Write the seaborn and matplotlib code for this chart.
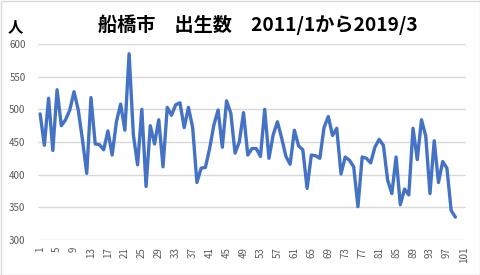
import matplotlib
matplotlib.use("Agg")
import matplotlib.pyplot as plt
import seaborn as sns
import pandas as pd
from matplotlib.patches import Rectangle

# Monthly births, Funabashi, 2011/1 .. 2019/3 (99 months)
births = [
    493, 445, 517, 437, 530, 475, 484, 499, 527, 499, 453, 402,
    518, 447, 446, 438, 467, 430, 481, 508, 468, 585, 461, 415,
    500, 382, 475, 447, 484, 412, 503, 491, 507, 510, 472, 503,
    472, 388, 410, 411, 440, 476, 499, 442, 513, 494, 433, 450,
    495, 430, 440, 440, 428, 500, 425, 461, 481, 456, 428, 416,
    468, 444, 438, 379, 430, 429, 425, 472, 489, 460, 471, 401,
    427, 422, 412, 351, 427, 425, 418, 442, 454, 445, 392, 371,
    427, 354, 378, 369, 471, 423, 484, 459, 371, 452, 388, 420,
    410, 345, 335,
]
month_index = list(range(1, len(births) + 1))
tick_values = list(range(1, 102, 4))
y_ticks = [300, 350, 400, 450, 500, 550, 600]
title_text = "船橋市　出生数　2011/1から2019/3"
unit_text = "人"

sns.set_theme(style="white")
plt.rcParams["font.family"] = ["Noto Sans CJK JP", "DejaVu Sans"]

df = pd.DataFrame({"month": month_index, "births": births})

fig = plt.figure(figsize=(4.81, 2.75), dpi=100)
ax = fig.add_axes([38 / 481, 35 / 275, 428 / 481, 196 / 275])

sns.lineplot(data=df, x="month", y="births", ax=ax, color="#4472C4", linewidth=2.4)

ax.set_xlim(0.5, 101.5)
ax.set_ylim(300, 600)
ax.set_yticks(y_ticks)
ax.set_xticks(tick_values)
ax.set_xticklabels([str(t) for t in tick_values], rotation=90)
ax.tick_params(axis="both", length=0, labelsize=7, colors="#595959")
ax.tick_params(axis="y", pad=9)
ax.tick_params(axis="x", pad=5)
ax.grid(axis="y", color="#d9d9d9", linewidth=1)
ax.set_axisbelow(True)
for s in ax.spines.values():
    s.set_visible(False)
ax.set_xlabel("")
ax.set_ylabel("")

fig.text(0.536, 0.911, title_text, ha="center", va="center",
         fontsize=13.8, fontweight="bold", color="#000000")
fig.text(0.032, 0.904, unit_text, ha="center", va="center",
         fontsize=11, fontweight="bold", color="#000000")

fig.patches.append(Rectangle((0.5 / 481, 0.5 / 275), 479.5 / 481, 273.5 / 275,
                             transform=fig.transFigure, fill=False,
                             edgecolor="#d9d9d9", linewidth=1))

fig.savefig("out.png", dpi=100, facecolor="white")
